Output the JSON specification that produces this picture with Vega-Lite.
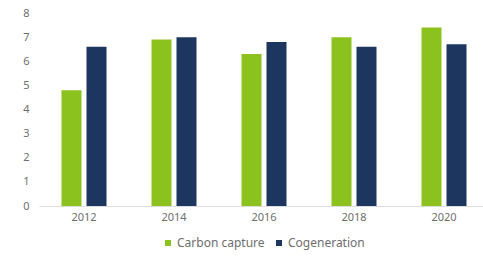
{
  "$schema": "https://vega.github.io/schema/vega-lite/v6.json",
  "autosize": "none",
  "width": 444,
  "height": 193,
  "padding": {"left": 39, "top": 13, "right": 0, "bottom": 50},
  "background": "white",
  "data": {
    "values": [
      {"year": "2012", "series": "Carbon capture", "value": 4.8},
      {"year": "2012", "series": "Cogeneration", "value": 6.6},
      {"year": "2014", "series": "Carbon capture", "value": 6.9},
      {"year": "2014", "series": "Cogeneration", "value": 7.0},
      {"year": "2016", "series": "Carbon capture", "value": 6.3},
      {"year": "2016", "series": "Cogeneration", "value": 6.8},
      {"year": "2018", "series": "Carbon capture", "value": 7.0},
      {"year": "2018", "series": "Cogeneration", "value": 6.6},
      {"year": "2020", "series": "Carbon capture", "value": 7.4},
      {"year": "2020", "series": "Cogeneration", "value": 6.7}
    ]
  },
  "mark": {"type": "bar"},
  "encoding": {
    "x": {
      "field": "year", "type": "nominal",
      "scale": {"paddingInner": 0, "paddingOuter": 0, "range": [0, 450]},
      "axis": {"title": null, "labelAngle": 0, "ticks": false, "domainColor": "#dcdcdc", "domainWidth": 1, "labelPadding": 5, "labelFontSize": 11, "labelColor": "#6e6e6e", "labelFont": "Noto Sans"}
    },
    "xOffset": {
      "field": "series", "type": "nominal",
      "scale": {"paddingInner": 0.2, "paddingOuter": 0.9}
    },
    "y": {
      "field": "value", "type": "quantitative",
      "scale": {"domain": [0, 8]},
      "axis": {"title": null, "values": [0,1,2,3,4,5,6,7,8], "grid": false, "domain": false, "ticks": false, "labelPadding": 10, "labelFontSize": 11, "labelColor": "#6e6e6e", "labelFont": "Noto Sans"}
    },
    "color": {
      "field": "series", "type": "nominal",
      "scale": {"domain": ["Carbon capture", "Cogeneration"], "range": ["#8cc21e", "#1d365f"]},
      "legend": {"title": null, "orient": "none", "legendX": 123, "legendY": 224, "direction": "horizontal", "symbolType": "square", "symbolSize": 36, "labelFontSize": 12, "labelColor": "#6e6e6e", "labelFont": "Noto Sans", "labelOffset": 3, "columnPadding": 8, "padding": 0}
    }
  },
  "config": {"view": {"stroke": null}}
}
